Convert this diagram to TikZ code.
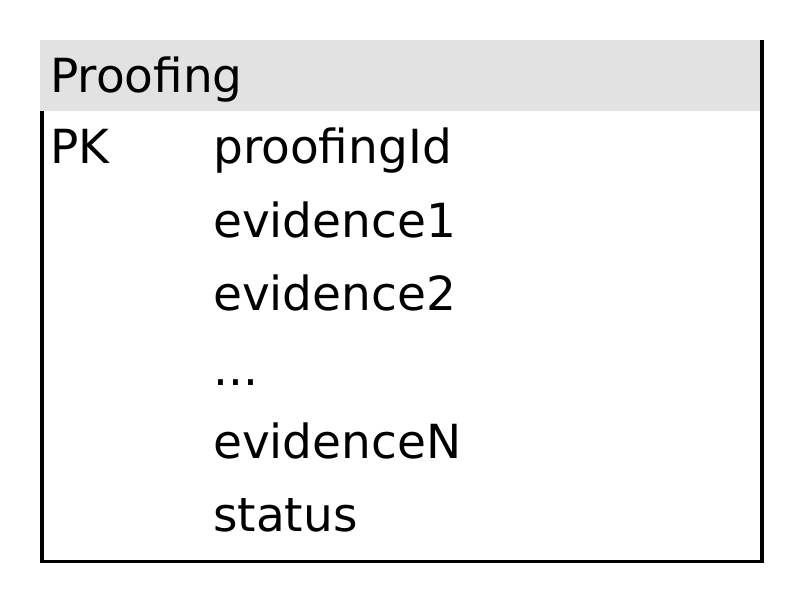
\documentclass[tikz,border=0pt]{standalone}
\usepackage{fontspec}
\setmainfont{DejaVu Sans}
\definecolor{headgray}{HTML}{E2E2E2}
\begin{document}
\begin{tikzpicture}[x=1pt, y=-1pt,
    field/.style={anchor=base west, inner sep=0pt, font=\fontsize{47}{56}\selectfont},
    border/.style={line width=3.5pt}]
    \useasboundingbox (0, 0) rectangle (804, 604);

    \fill[headgray] (40, 40) rectangle (760, 111);
    \draw[border] (41.75, 111) to (41.75, 561.25) to (762, 561.25) to (762, 40);

    \node[field] (title) at (50, 93) {Proofing};
    \node[field] (pk) at (50, 164) {PK};
    \node[field] (proofingid) at (213, 164) {proofingId};
    \node[field] (evidence1) at (213, 238) {evidence1};
    \node[field] (evidence2) at (213, 311) {evidence2};
    \node[field] (dots) at (213, 385) {...};
    \node[field] (evidencen) at (213, 458) {evidenceN};
    \node[field] (status) at (213, 531) {status};
\end{tikzpicture}
\end{document}
